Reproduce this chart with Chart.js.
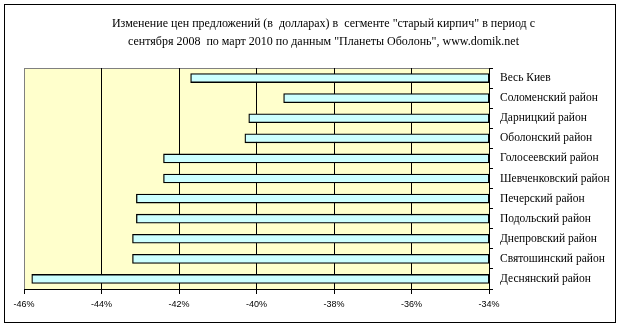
<!DOCTYPE html>
<html>
<head>
<meta charset="utf-8">
<script src="https://cdn.jsdelivr.net/npm/chart.js@4/dist/chart.umd.min.js"></script>
<style>
  html, body { margin: 0; padding: 0; background: #fff; }
  #wrap { width: 623px; height: 326px; }
</style>
</head>
<body>
<div id="wrap"><canvas id="chart" width="623" height="326"></canvas></div>
<script>
const districts = ["Весь Киев", "Соломенский район", "Дарницкий район", "Оболонский район",
    "Голосеевский район", "Шевченковский район", "Печерский район", "Подольский район",
    "Днепровский район", "Святошинский район", "Деснянский район"];
const priceChange = [-41.7, -39.3, -40.2, -40.3, -42.4, -42.4, -43.1, -43.1, -43.2, -43.2, -45.8];
const axisMin = -46;
const axisMax = -34;
const titleLines = [
    'Изменение цен предложений (в  долларах) в  сегменте "старый кирпич" в период с',
    'сентября 2008  по март 2010 по данным "Планеты Оболонь", www.domik.net'
];

// plot background, grey plot frame and outer chart border
const frame = {
    id: 'frame',
    beforeDraw(chart) {
        const { ctx, chartArea: a } = chart;
        ctx.save();
        ctx.fillStyle = '#FFFFCC';
        ctx.fillRect(a.left, a.top, a.right - a.left, a.bottom - a.top);
        ctx.strokeStyle = '#808080';
        ctx.lineWidth = 1;
        ctx.beginPath();
        ctx.moveTo(a.left + 0.5, a.bottom);
        ctx.lineTo(a.left + 0.5, a.top + 0.5);
        ctx.lineTo(a.right, a.top + 0.5);
        ctx.stroke();
        ctx.restore();
    },
    afterDraw(chart) {
        const ctx = chart.ctx;
        ctx.save();
        ctx.strokeStyle = '#000';
        ctx.lineWidth = 1;
        ctx.strokeRect(4.5, 4.5, 611, 318);
        ctx.restore();
    }
};

new Chart(document.getElementById('chart'), {
    type: 'bar',
    data: {
        labels: districts,
        datasets: [{
            data: priceChange.map(v => [v, axisMax]),
            backgroundColor: '#CCFFFF',
            borderColor: '#000',
            borderWidth: 1.3,
            borderSkipped: false,
            barThickness: 9
        }]
    },
    options: {
        indexAxis: 'y',
        responsive: false,
        animation: false,
        layout: { padding: { left: 24, right: 0, top: 0, bottom: 0 } },
        plugins: {
            legend: { display: false },
            tooltip: { enabled: false },
            title: {
                display: true,
                text: titleLines,
                color: '#000',
                font: { family: '"Liberation Serif", serif', size: 12, weight: 'normal', lineHeight: 1.5 },
                padding: { top: 15, bottom: 17 }
            }
        },
        scales: {
            x: {
                min: axisMin,
                max: axisMax,
                afterFit(scale) { scale.height = 37; },
                border: { color: '#000' },
                grid: {
                    color: ctx => (ctx.tick && ctx.tick.value === axisMin) ? '#808080' : '#000',
                    tickColor: '#000',
                    tickLength: 5
                },
                ticks: {
                    stepSize: 2,
                    padding: 5,
                    color: '#000',
                    maxRotation: 0,
                    font: { family: '"Liberation Sans", Arial, sans-serif', size: 9 },
                    callback: v => v + '%'
                }
            },
            y: {
                position: 'right',
                afterFit(scale) { scale.width = 134; },
                border: { color: '#000' },
                grid: {
                    offset: true,
                    drawOnChartArea: false,
                    color: '#000',
                    tickLength: 4
                },
                ticks: {
                    padding: 7,
                    color: '#000',
                    font: { family: '"Liberation Serif", serif', size: 11.5 }
                }
            }
        }
    },
    plugins: [frame]
});
</script>
</body>
</html>
